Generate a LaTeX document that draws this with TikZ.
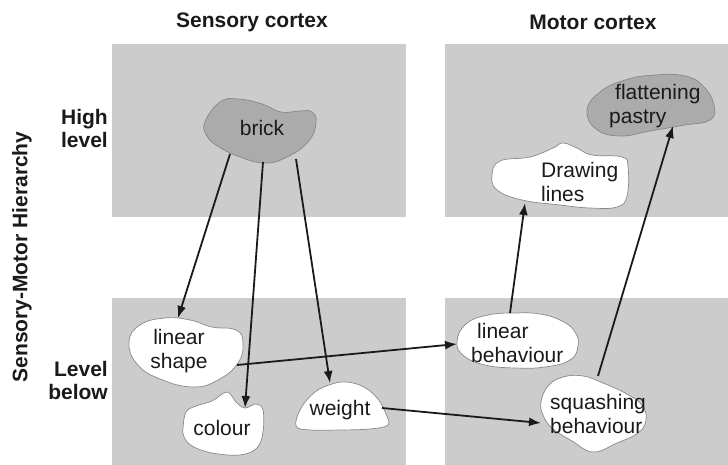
\documentclass[tikz,border=0pt]{standalone}
\usepackage{fontspec}
\setmainfont{Liberation Sans}
\usetikzlibrary{arrows.meta}
\definecolor{panelgray}{HTML}{CCCCCC}
\definecolor{blobdark}{HTML}{ABABAB}
\definecolor{blobedge}{HTML}{888888}
\definecolor{inkcol}{HTML}{1A1A1A}
\begin{document}
\begin{tikzpicture}[x=1pt,y=-1pt,
  panel/.style={fill=panelgray,draw=none},
  blob/.style={draw=blobedge,line width=0.7pt,fill=white},
  darkblob/.style={blob,fill=blobdark},
  lbl/.style={font=\fontsize{21}{24}\selectfont,inner sep=0pt,text=inkcol},
  head/.style={font=\fontsize{21}{23}\selectfont\bfseries,inner sep=0pt,text=inkcol},
  link/.style={line width=1.8pt,draw=inkcol,-{Latex[length=12pt,width=9pt]}}]
\useasboundingbox (0,0) rectangle (728,465);

% cortex panels
\fill[panel] (112,44) rectangle (406,217);
\fill[panel] (445,44) rectangle (728,217);
\fill[panel] (112,298) rectangle (406,465);
\fill[panel] (445,298) rectangle (728,465);

% headings
\node[head] (hsens) at (252,22) {Sensory cortex};
\node[head] (hmot) at (593,22) {Motor cortex};
\node[head,align=right,anchor=east] (hhigh) at (108,128) {High\\level};
\node[head,align=right,anchor=east] (hlow) at (108,380) {Level\\below};
\node[head,rotate=90] (haxis) at (22,257) {Sensory-Motor Hierarchy};

% blobs
\draw[darkblob] plot[smooth cycle,tension=0.75] coordinates {
  (205,122) (220,102) (238,99) (262,104) (281,112) (300,111) (312,112)
  (316,123) (308,142) (285,158) (264,163) (240,157) (219,147) (207,136)};
\draw[darkblob] plot[smooth cycle,tension=0.75] coordinates {
  (587,110) (600,92) (625,80) (655,75) (685,76) (703,86) (714,105)
  (710,120) (685,125) (650,131) (620,136) (596,129)};
\draw[blob] plot[smooth cycle,tension=0.7] coordinates {
  (492,175) (500,161) (530,157) (553,148) (563,143) (577,148) (592,155)
  (622,157) (628,167) (627,196) (617,207) (590,208) (560,205) (522,200) (497,190)};
\draw[blob] plot[smooth cycle,tension=0.75] coordinates {
  (129,342) (140,325) (165,318) (190,320) (212,327) (236,330) (243,343)
  (238,363) (218,380) (193,387) (160,379) (137,364)};
\draw[blob] plot[smooth cycle,tension=0.6] coordinates {
  (183,428) (186,412) (196,406) (212,401) (227,392) (236,402) (245,408)
  (256,404) (263,410) (263,432) (257,448) (240,455) (212,453) (192,446) (184,437)};
\draw[blob] plot[smooth cycle,tension=0.6] coordinates {
  (296,426) (301,408) (315,392) (332,384) (347,382) (364,387) (378,399)
  (386,414) (388,425) (370,429) (340,430) (310,430)};
\draw[blob] plot[smooth cycle,tension=0.75] coordinates {
  (457,342) (466,324) (488,315) (515,313) (540,314) (562,321) (575,332)
  (578,346) (570,360) (545,367) (515,368) (485,365) (464,356)};
\draw[blob] plot[smooth cycle,tension=0.7] coordinates {
  (541,402) (548,386) (563,377) (583,376) (603,383) (625,393) (642,405)
  (646,420) (638,433) (617,443) (593,452) (572,441) (552,428) (543,415)};

% blob labels
\node[lbl] (brick) at (262,128) {brick};
\node[lbl,align=left,anchor=west] (pastry) at (609,106) {\hspace*{6pt}flattening\\pastry};
\node[lbl,align=left,anchor=west] (drawing) at (541,182) {Drawing\\lines};
\node[lbl,align=center] (shape) at (179,351) {linear\\shape};
\node[lbl] (colour) at (222,428) {colour};
\node[lbl] (weight) at (340,410) {weight};
\node[lbl,align=left,anchor=west] (linbeh) at (471,343) {\hspace*{6pt}linear\\behaviour};
\node[lbl,align=left,anchor=west] (squash) at (550,414) {squashing\\behaviour};

% attachment points on the blob outlines
\coordinate (brick-a) at (230,154);
\coordinate (brick-b) at (263,162);
\coordinate (brick-c) at (296,159);
\coordinate (shape-in) at (178,318);
\coordinate (shape-out) at (237,365);
\coordinate (colour-in) at (245,408);
\coordinate (weight-in) at (330,383);
\coordinate (weight-out) at (382,408);
\coordinate (linbeh-in) at (457,344);
\coordinate (linbeh-out) at (510,313);
\coordinate (squash-in) at (541,423);
\coordinate (squash-out) at (598,376);
\coordinate (drawing-in) at (525,203);
\coordinate (pastry-in) at (673,126);

% connections
\draw[link] (brick-a) -- (shape-in);
\draw[link] (brick-b) -- (colour-in);
\draw[link] (brick-c) -- (weight-in);
\draw[link] (shape-out) -- (linbeh-in);
\draw[link] (weight-out) -- (squash-in);
\draw[link] (linbeh-out) -- (drawing-in);
\draw[link] (squash-out) -- (pastry-in);
\end{tikzpicture}
\end{document}
